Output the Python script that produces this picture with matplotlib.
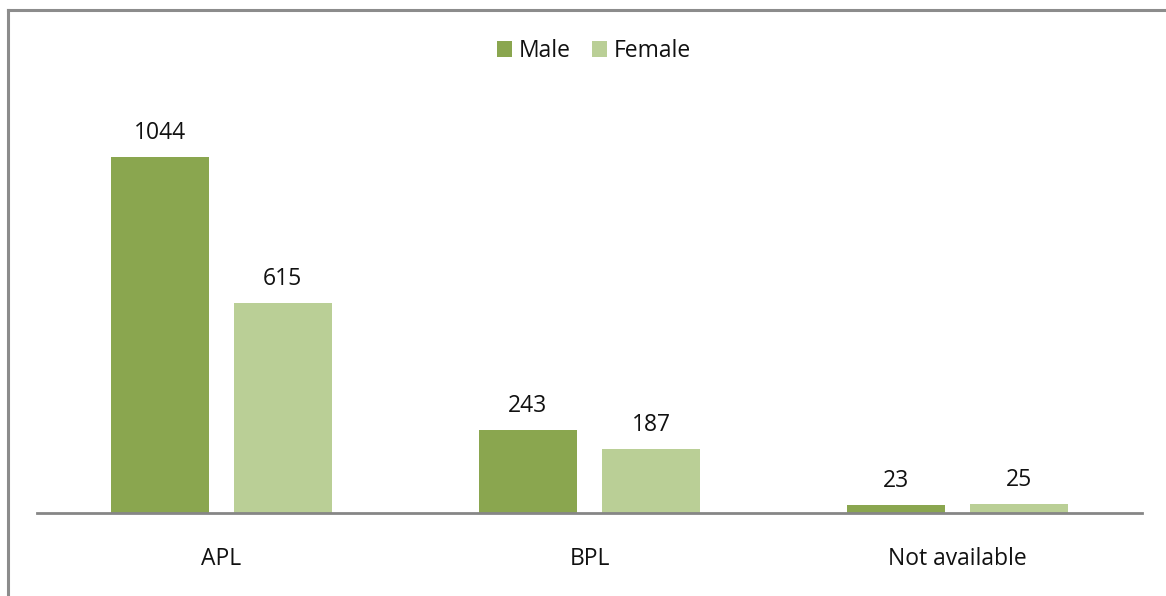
import matplotlib.pyplot as plt
import numpy as np
from matplotlib.lines import Line2D

categories = ['APL', 'BPL', 'Not available']
male = [1044, 243, 23]
female = [615, 187, 25]

W, H = 1166, 596
fig = plt.figure(figsize=(W / 100, H / 100), dpi=100)
plt.rcParams['font.family'] = ['Open Sans', 'DejaVu Sans']
fs = 16.5

# plot area in pixels: x 37..1142, baseline at y=513
left, right, base, top = 37, 1142, 513, 104
ax = fig.add_axes([left / W, 1 - base / H, (right - left) / W, (base - top) / H])

x = np.arange(len(categories))
bw = 0.266
off = 0.167
b1 = ax.bar(x - off, male, bw, color='#8AA64F', label='Male')
b2 = ax.bar(x + off, female, bw, color='#BACF96', label='Female')

for bars in (b1, b2):
    for b in bars:
        ax.annotate(str(int(b.get_height())), (b.get_x() + b.get_width() / 2, b.get_height()),
                    xytext=(0, 17.5), textcoords='offset points', ha='center', va='center',
                    fontsize=fs, color='#111111')

ax.set_xlim(-0.5, 2.5)
ax.set_ylim(0, 1200)
ax.set_yticks([])
ax.set_xticks(x)
ax.set_xticklabels(categories, fontsize=fs, color='#111111')
for lbl in ax.get_xticklabels():
    lbl.set_va('center')
ax.tick_params(axis='x', length=0, pad=33)
for s in ['top', 'right', 'left']:
    ax.spines[s].set_visible(False)
ax.spines['bottom'].set_color('#868686')
ax.spines['bottom'].set_linewidth(2)

leg = fig.legend(loc='center', bbox_to_anchor=(0.5 + 11 / W, 1 - 51 / H), ncol=2, frameon=False,
                 fontsize=fs, handlelength=0.65, handleheight=0.65, handletextpad=0.3,
                 columnspacing=0.95)
for t in leg.get_texts():
    t.set_color('#111111')

# outer border (top and left edges visible)
fig.add_artist(Line2D([7.5 / W, 1], [1 - 9.5 / H, 1 - 9.5 / H], color='#8C8C8C', lw=2.2,
                      transform=fig.transFigure))
fig.add_artist(Line2D([7.5 / W, 7.5 / W], [0, 1 - 9.5 / H], color='#8C8C8C', lw=2.2,
                      transform=fig.transFigure))

fig.savefig('out.png', dpi=100)
